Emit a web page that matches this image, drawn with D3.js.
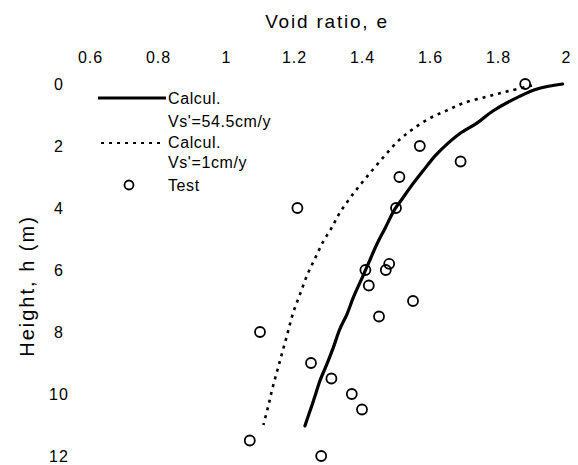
<!DOCTYPE html>
<html>
<head>
<meta charset="utf-8">
<script src="https://cdn.jsdelivr.net/npm/d3@7"></script>
<style>
  html, body { margin: 0; padding: 0; background: #fff; }
  svg { display: block; }
  text { font-family: "Liberation Sans", Arial, sans-serif; fill: #000; }
</style>
</head>
<body>
<svg id="chart" width="578" height="465"></svg>
<script>
// Void ratio e versus height h in the deposit
const xTicks = [0.6, 0.8, 1, 1.2, 1.4, 1.6, 1.8, 2];
const yTicks = [0, 2, 4, 6, 8, 10, 12];

// Calculated profile, Vs' = 54.5 cm/y  (height h, void ratio e)
const calcFastH = [0, 0.16, 0.39, 0.87, 1.26, 1.58, 1.94, 2.32, 2.81, 3.35, 3.71, 4.03, 4.65, 5.16, 5.81, 6.26, 6.9, 7.42, 7.9, 8.52, 9.03, 9.58, 10.06, 10.55, 11.03];
const calcFastE = [1.99, 1.915, 1.865, 1.785, 1.738, 1.69, 1.65, 1.615, 1.579, 1.541, 1.518, 1.497, 1.468, 1.444, 1.418, 1.4, 1.374, 1.356, 1.335, 1.315, 1.297, 1.276, 1.262, 1.247, 1.232];

// Calculated profile, Vs' = 1 cm/y
const calcSlowH = [0.05, 0.23, 0.4, 0.61, 0.85, 1.1, 1.45, 1.8, 2.4, 3.05, 3.6, 4.15, 4.65, 5.1, 5.6, 6.13, 6.77, 7.4, 8.0, 8.6, 9.2, 9.8, 10.4, 11.0];
const calcSlowE = [1.90, 1.83, 1.77, 1.70, 1.65, 1.60, 1.55, 1.51, 1.46, 1.41, 1.37, 1.335, 1.31, 1.285, 1.263, 1.24, 1.218, 1.197, 1.182, 1.167, 1.152, 1.137, 1.124, 1.11];

// Test measurements
const testH = [0, 2, 2.5, 3, 4, 4, 5.8, 6, 6, 6.5, 7, 7.5, 8, 9, 9.5, 10, 10.5, 11.5, 12];
const testE = [1.88, 1.57, 1.69, 1.51, 1.21, 1.50, 1.48, 1.47, 1.41, 1.42, 1.55, 1.45, 1.10, 1.25, 1.31, 1.37, 1.40, 1.07, 1.28];

const svg = d3.select("#chart");

const x = d3.scaleLinear().domain([0.6, 2]).range([90, 566]);
const y = d3.scaleLinear().domain([0, 12]).range([84, 456]);

// Axis titles
svg.append("text")
  .attr("x", 327).attr("y", 28)
  .attr("text-anchor", "middle")
  .style("font-size", "19px").style("letter-spacing", "1.8px")
  .text("Void ratio, e");

svg.append("text")
  .attr("transform", "translate(34,286) rotate(-90)")
  .attr("text-anchor", "middle")
  .style("font-size", "20px").style("letter-spacing", "2px")
  .text("Height, h (m)");

// Tick labels only (no axis lines)
const xAxis = svg.append("g")
  .attr("transform", "translate(0,63)")
  .call(d3.axisTop(x).tickValues(xTicks).tickSize(0).tickPadding(0).tickFormat(d3.format("")));
xAxis.select(".domain").remove();
xAxis.selectAll("text")
  .attr("dy", 0)
  .style("font-family", "'Liberation Sans', Arial, sans-serif")
  .style("font-size", "16px").style("letter-spacing", "1px").attr("fill", "#000");

const yAxis = svg.append("g")
  .attr("transform", "translate(59,0)")
  .call(d3.axisLeft(y).tickValues(yTicks).tickSize(0).tickPadding(0));
yAxis.select(".domain").remove();
yAxis.selectAll("text")
  .attr("x", 0)
  .attr("text-anchor", "middle")
  .attr("dy", "0.36em")
  .style("font-family", "'Liberation Sans', Arial, sans-serif")
  .style("font-size", "16px").style("letter-spacing", "1px").attr("fill", "#000");

// Curves
const line = d3.line()
  .x(d => x(d[1]))
  .y(d => y(d[0]))
  .curve(d3.curveCatmullRom.alpha(0.5));

const fast = d3.zip(calcFastH, calcFastE);
const slow = d3.zip(calcSlowH, calcSlowE);

svg.append("path")
  .datum(slow)
  .attr("d", line)
  .attr("fill", "none")
  .attr("stroke", "#000")
  .attr("stroke-width", 2.6)
  .attr("stroke-dasharray", "3,5");

svg.append("path")
  .datum(fast)
  .attr("d", line)
  .attr("fill", "none")
  .attr("stroke", "#000")
  .attr("stroke-width", 3.2)
  .attr("stroke-linecap", "round");

// Test points
svg.append("g").selectAll("circle")
  .data(d3.zip(testH, testE))
  .join("circle")
  .attr("cx", d => x(d[1]))
  .attr("cy", d => y(d[0]))
  .attr("r", 5)
  .attr("fill", "none")
  .attr("stroke", "#000")
  .attr("stroke-width", 1.8);

// Legend
const legend = svg.append("g");
const lt = (tx, ty, s) => legend.append("text")
  .attr("x", tx).attr("y", ty)
  .style("font-size", "16px").style("letter-spacing", "0.6px")
  .text(s);

legend.append("line")
  .attr("x1", 98).attr("x2", 166).attr("y1", 98).attr("y2", 98)
  .attr("stroke", "#000").attr("stroke-width", 3);
lt(168, 104, "Calcul.");
lt(168, 127, "Vs'=54.5cm/y");

legend.append("line")
  .attr("x1", 101).attr("x2", 160).attr("y1", 143).attr("y2", 143)
  .attr("stroke", "#000").attr("stroke-width", 1.8)
  .attr("stroke-dasharray", "3,5");
lt(168, 148, "Calcul.");
lt(168, 168, "Vs'=1cm/y");

legend.append("circle")
  .attr("cx", 129).attr("cy", 185).attr("r", 4.5)
  .attr("fill", "none").attr("stroke", "#000").attr("stroke-width", 1.8);
lt(168, 191, "Test");
</script>
</body>
</html>
